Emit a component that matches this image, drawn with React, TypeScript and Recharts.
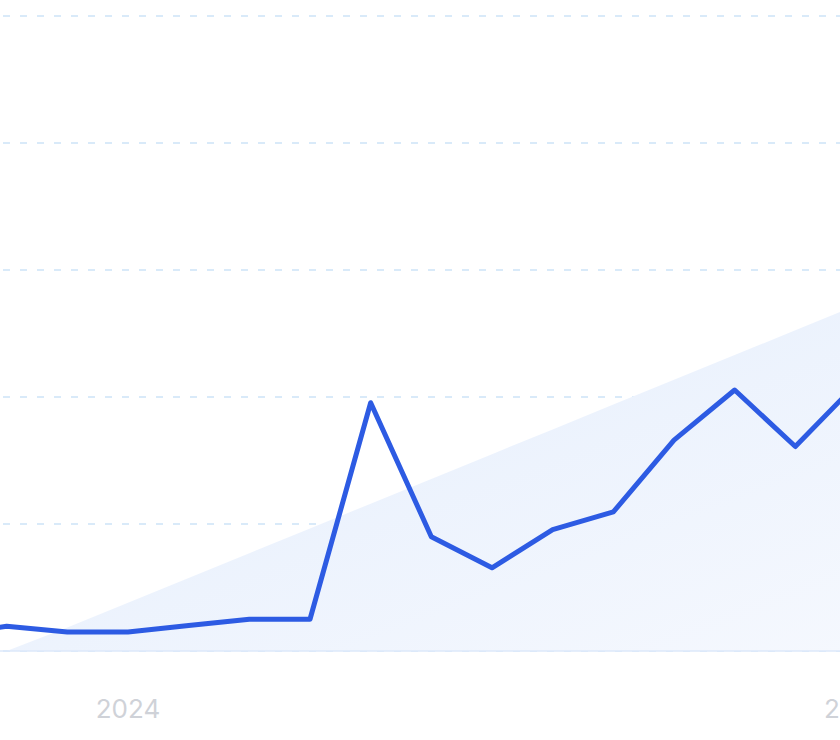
import {
  ComposedChart,
  Line,
  Area,
  XAxis,
  YAxis,
  CartesianGrid,
} from "recharts";

const months = [
  "2023-10", "2023-11", "2023-12", "2024-01", "2024-02", "2024-03", "2024-04", "2024-05",
  "2024-06", "2024-07", "2024-08", "2024-09", "2024-10", "2024-11", "2024-12", "2025-01",
];
const values = [2.5, 3.9, 3.0, 3.0, 4.0, 5.0, 5.0, 39.1, 18.0, 13.1, 19.1, 21.9, 33.2, 41.1, 32.2, 42.0];
const trend = [0, 0, 3.7, 7.6, 11.5, 15.4, 19.3, 23.2, 27.1, 31.0, 34.9, 38.8, 42.7, 46.6, 50.5, 54.4];
const yearTicks = ["2024-01", "2025-01"];
const yTicks = [0, 20, 40, 60, 80, 100];

const data = months.map((m, i) => ({ month: m, value: values[i], trend: trend[i] }));

export default function App() {
  return (
    <div
      style={{
        position: "fixed",
        left: 0,
        top: 0,
        width: 840,
        height: 740,
        overflow: "hidden",
        background: "#fff",
      }}
    >
      <div style={{ position: "absolute", left: -54, top: 0 }}>
        <ComposedChart
          width={910}
          height={740}
          data={data}
          margin={{ top: 16, right: 0, bottom: 0, left: 0 }}
        >
          <defs>
            <linearGradient id="trendFill" x1="0" y1="0" x2="1" y2="1">
              <stop offset="0%" stopColor="#e3edfc" />
              <stop offset="100%" stopColor="#f5f8fe" />
            </linearGradient>
          </defs>
          <CartesianGrid
            vertical={false}
            stroke="#cde4f8"
            strokeWidth={1.5}
            strokeDasharray="7 10"
            strokeDashoffset={-6}
          />
          <XAxis
            dataKey="month"
            scale="point"
            padding={{ left: 0, right: 0 }}
            ticks={yearTicks}
            interval={0}
            tickFormatter={(v: string) => v.slice(0, 4)}
            height={89}
            tickLine={false}
            axisLine={{ stroke: "#dde8fa", strokeWidth: 1.5 }}
            tickMargin={43}
            tick={{ fill: "#cfd2d8", fontSize: 26, fontFamily: "Inter" }}
          />
          <YAxis hide domain={[0, 100]} ticks={yTicks} />
          <Area
            dataKey="trend"
            type="linear"
            stroke="none"
            fill="url(#trendFill)"
            fillOpacity={1}
            isAnimationActive={false}
          />
          <Line
            dataKey="value"
            type="linear"
            stroke="#2d5be3"
            strokeWidth={5}
            strokeLinejoin="round"
            dot={false}
            activeDot={false}
            isAnimationActive={false}
          />
        </ComposedChart>
      </div>
    </div>
  );
}
